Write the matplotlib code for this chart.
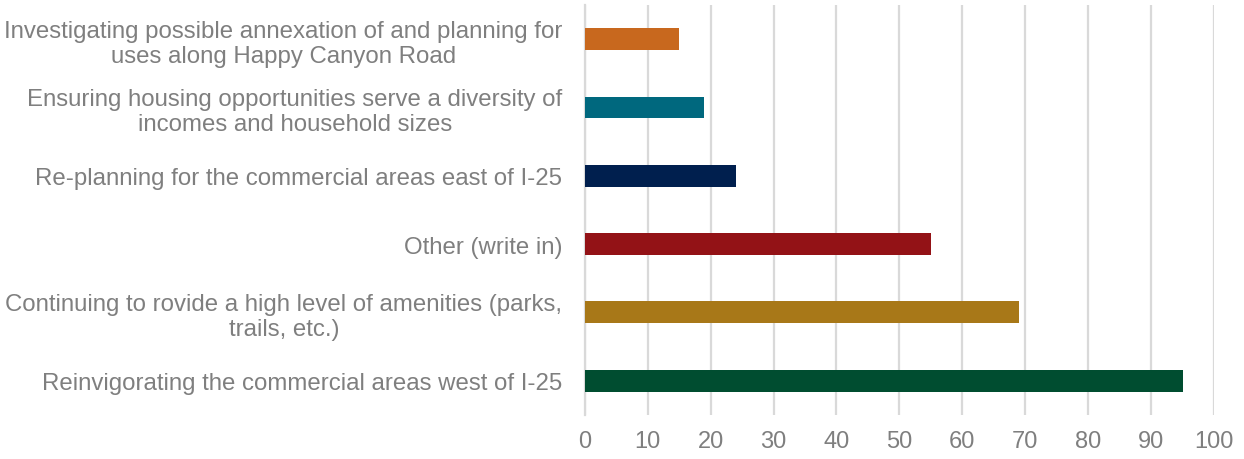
import matplotlib.pyplot as plt

# survey responses, listed bottom to top
labels = [
    "Reinvigorating the commercial areas west of I-25",
    "Continuing to rovide a high level of amenities (parks,\ntrails, etc.)",
    "Other (write in)",
    "Re-planning for the commercial areas east of I-25",
    "Ensuring housing opportunities serve a diversity of\nincomes and household sizes",
    "Investigating possible annexation of and planning for\nuses along Happy Canyon Road",
]
values = [95, 69, 55, 24, 19, 15]
colors = ["#004D30", "#A87818", "#931216", "#001F4E", "#00687E", "#C8681E"]
xticks = list(range(0, 101, 10))

plt.rcParams['font.family'] = ['Liberation Sans', 'DejaVu Sans']

fig = plt.figure(figsize=(12.44, 4.6), dpi=100)
ax = fig.add_axes([0.470, 0.096, 0.506, 0.891])

ax.barh(range(len(values)), values, height=0.32, color=colors, zorder=3)

ax.set_xlim(0, 100)
ax.set_ylim(-0.5, len(values) - 0.5)
ax.set_xticks(xticks)
ax.set_yticks(range(len(values)))
ax.set_yticklabels(labels, linespacing=1.2, multialignment="center")
ax.xaxis.grid(True, color="#D9D9D9", linewidth=1.6, zorder=0)

for s in ["top", "right", "bottom"]:
    ax.spines[s].set_visible(False)
ax.spines["left"].set_color("#D9D9D9")
ax.spines["left"].set_linewidth(1.6)

ax.tick_params(axis="y", length=0, pad=16, labelsize=17.3, labelcolor="#7F7F7F")
ax.tick_params(axis="x", length=0, pad=11, labelsize=17, labelcolor="#7F7F7F")

fig.savefig("out.png", dpi=100)
